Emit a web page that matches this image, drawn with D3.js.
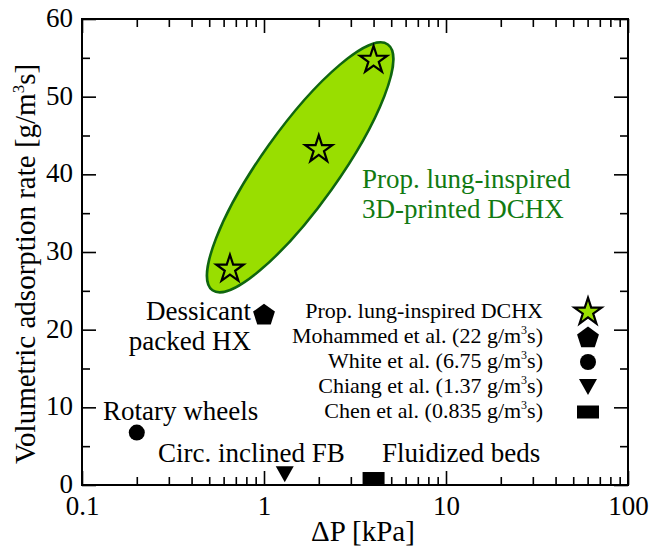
<!DOCTYPE html>
<html>
<head>
<meta charset="utf-8">
<script src="https://cdn.jsdelivr.net/npm/d3@7"></script>
<style>
  html, body { margin: 0; padding: 0; background: #fff; }
  svg { display: block; font-family: "Liberation Serif", "Times New Roman", serif; }
</style>
</head>
<body>
<svg id="chart" width="651" height="549"></svg>
<script>
// ---------------- data ----------------
const lungDP   = [0.65, 2.0, 4.0];          // kPa
const lungRate = [27.8, 43.2, 54.7];        // g/m3s

const otherNames = ["Mohammed et al.", "White et al.", "Chiang et al.", "Chen et al."];
const otherDP    = [1.0, 0.2, 1.3, 4.0];
const otherRate  = [22, 6.75, 1.37, 0.835];
const otherShape = ["pentagon", "circle", "triangle", "rect"];

const legendLabels = ["Prop. lung-inspired DCHX", "Mohammed et al. (22 g/m", "White et al. (6.75 g/m", "Chiang et al. (1.37 g/m", "Chen et al. (0.835 g/m"];
const legendShapes = ["star", "pentagon", "circle", "triangle", "rect"];

const xMajor = [0.1, 1, 10, 100];
const xMajorLabels = ["0.1", "1", "10", "100"];
const yMajor = [0, 10, 20, 30, 40, 50, 60];
const yMinor = [5, 15, 25, 35, 45, 55];

const ellipseCenter = [1.58, 40.9];   // data coords of highlight ellipse centre

// ---------------- layout ----------------
const svg = d3.select("#chart");
const L = 82, R = 628, T = 19, B = 485;
const x = d3.scaleLog().domain([0.1, 100]).range([L, R]);
const y = d3.scaleLinear().domain([0, 60]).range([B, T]);

const xMinor = [];
[0.1, 1, 10].forEach(d => { for (let k = 2; k <= 9; k++) xMinor.push(+(d * k).toPrecision(3)); });

const LIME = "#99de00", DKGREEN = "#0f660f", TXTGREEN = "#117a11";
const FS = 27;

// ---------------- highlight ellipse ----------------
svg.append("ellipse")
  .attr("cx", 0).attr("cy", 0).attr("rx", 151).attr("ry", 38.5)
  .attr("transform", `translate(${x(ellipseCenter[0])},${y(ellipseCenter[1])}) rotate(-54.5)`)
  .attr("fill", LIME).attr("stroke", DKGREEN).attr("stroke-width", 2.5);

// ---------------- axes ----------------
function styleAxis(g) {
  g.select(".domain").remove();
  g.selectAll(".tick line").attr("stroke", "#000").attr("stroke-width", 1.6);
  g.selectAll("text").attr("font-size", FS).attr("fill", "#000")
    .style("font-family", "'Liberation Serif', serif");
}
const fmtX = d => xMajorLabels[xMajor.indexOf(d)];

svg.append("g").attr("transform", `translate(0,${B})`)
  .call(d3.axisBottom(x).tickValues(xMajor).tickFormat(fmtX).tickSize(-14).tickPadding(8))
  .call(styleAxis)
  .call(g => g.selectAll("text").attr("y", 30).attr("dy", null));
svg.append("g").attr("transform", `translate(0,${B})`)
  .call(d3.axisBottom(x).tickValues(xMinor).tickFormat("").tickSize(-8)).call(styleAxis);
svg.append("g").attr("transform", `translate(0,${T})`)
  .call(d3.axisTop(x).tickValues(xMajor).tickFormat("").tickSize(-14)).call(styleAxis);
svg.append("g").attr("transform", `translate(0,${T})`)
  .call(d3.axisTop(x).tickValues(xMinor).tickFormat("").tickSize(-8)).call(styleAxis);

svg.append("g").attr("transform", `translate(${L},0)`)
  .call(d3.axisLeft(y).tickValues(yMajor).tickFormat(d3.format("d")).tickSize(-14).tickPadding(10))
  .call(styleAxis)
  .call(g => g.selectAll("text").attr("x", -9).attr("dy", "0.28em"));
svg.append("g").attr("transform", `translate(${L},0)`)
  .call(d3.axisLeft(y).tickValues(yMinor).tickFormat("").tickSize(-8)).call(styleAxis);
svg.append("g").attr("transform", `translate(${R},0)`)
  .call(d3.axisRight(y).tickValues(yMajor).tickFormat("").tickSize(-14)).call(styleAxis);
svg.append("g").attr("transform", `translate(${R},0)`)
  .call(d3.axisRight(y).tickValues(yMinor).tickFormat("").tickSize(-8)).call(styleAxis);

svg.append("rect").attr("x", L).attr("y", T).attr("width", R - L).attr("height", B - T)
  .attr("fill", "none").attr("stroke", "#000").attr("stroke-width", 2);

// axis titles
svg.append("text").attr("x", (L + R) / 2 + 8).attr("y", 541).attr("text-anchor", "middle")
  .attr("font-size", 29).text("ΔP [kPa]");
const yt = svg.append("text")
  .attr("transform", `translate(35,${(T + B) / 2 + 12}) rotate(-90)`)
  .attr("text-anchor", "middle").attr("font-size", 29);
yt.append("tspan").text("Volumetric adsorption rate [g/m");
yt.append("tspan").attr("font-size", 17).attr("dy", -11).text("3");
yt.append("tspan").attr("dy", 11).text("s]");

// ---------------- symbols ----------------
function pentagonPath(r) {
  const pts = d3.range(5).map(i => {
    const a = -Math.PI / 2 + i * 2 * Math.PI / 5;
    return [r * Math.cos(a), r * Math.sin(a)];
  });
  return "M" + pts.map(p => p.join(",")).join("L") + "Z";
}
function drawShape(g, shape, cx, cy) {
  if (shape === "star") {
    g.append("path").attr("d", d3.symbol(d3.symbolStar, 230)())
      .attr("transform", `translate(${cx},${cy})`)
      .attr("fill", LIME).attr("stroke", "#000").attr("stroke-width", 2.2);
  } else if (shape === "pentagon") {
    g.append("path").attr("d", pentagonPath(11.5))
      .attr("transform", `translate(${cx},${cy + 1})`).attr("fill", "#000");
  } else if (shape === "circle") {
    g.append("circle").attr("cx", cx).attr("cy", cy).attr("r", 8).attr("fill", "#000");
  } else if (shape === "triangle") {
    g.append("path").attr("d", `M${-9},${-8}L9,${-8}L0,8Z`)
      .attr("transform", `translate(${cx},${cy})`).attr("fill", "#000");
  } else if (shape === "rect") {
    g.append("rect").attr("x", cx - 11).attr("y", cy - 6.5).attr("width", 22).attr("height", 13).attr("fill", "#000");
  }
}

const marks = svg.append("g");
lungDP.forEach((d, i) => drawShape(marks, "star", x(d), y(lungRate[i])));
otherDP.forEach((d, i) => drawShape(marks, otherShape[i], x(d), y(otherRate[i])));

// ---------------- annotations ----------------
function label(lines, xx, yy, anchor, color) {
  const t = svg.append("text").attr("font-size", FS).attr("fill", color || "#000").attr("text-anchor", anchor);
  lines.forEach((s, i) => t.append("tspan").attr("x", xx).attr("y", yy + i * 30).text(s));
}
label(["Prop. lung-inspired", "3D-printed DCHX"], 362, 188, "start", TXTGREEN);
label(["Dessicant", "packed HX"], 251, 320, "end");
label(["Rotary wheels"], 103, 420, "start");
label(["Circ. inclined FB"], 158, 462, "start");
label(["Fluidized beds"], 382, 462, "start");

// ---------------- legend ----------------
const leg = svg.append("g");
legendLabels.forEach((s, i) => {
  const yy = 318 + i * 25;
  const t = leg.append("text").attr("x", 543).attr("y", yy).attr("text-anchor", "end").attr("font-size", 22);
  if (i === 0) { t.text(s); }
  else {
    t.append("tspan").text(s);
    t.append("tspan").attr("font-size", 12).attr("dy", -9).text("3");
    t.append("tspan").attr("dy", 9).text("s)");
  }
  drawShape(leg, legendShapes[i], 588, yy - 6);
});
</script>
</body>
</html>
